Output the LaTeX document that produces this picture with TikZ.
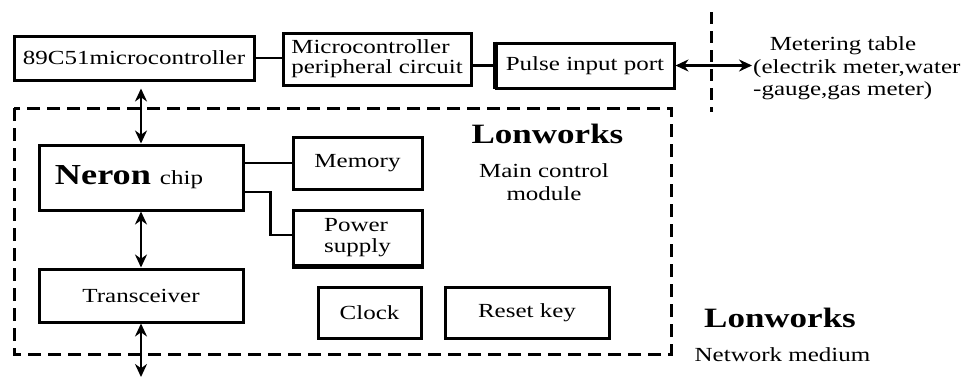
\documentclass[tikz,border=0pt]{standalone}
\usepackage{fontspec}
\setmainfont[FakeStretch=1.25]{Liberation Serif}
\usetikzlibrary{arrows.meta,calc}
\begin{document}
\begin{tikzpicture}[x=1pt,y=-1pt,
  every node/.style={font=\fontsize{20}{22}\selectfont, inner sep=0pt},
  blk/.style={draw, line width=3pt, fill=white},
  txt/.style={anchor=base},
  big/.style={anchor=base, font=\fontsize{28}{30}\selectfont\bfseries},
  con/.style={line width=2.4pt},
  dbl/.style={<->, line width=2.6pt, >={Stealth[length=13pt,width=12pt]}},
  grp/.style={dash pattern=on 13pt off 7pt, line width=3pt}]
\useasboundingbox[fill=white] (0,0) rectangle (966,378);
% group box
\draw[grp] (14,108) rectangle (671,354);
% top row
\node[blk, minimum width=240pt, minimum height=44pt] (mcu) at (134,58) {89C51microcontroller};
\node[blk, minimum width=188pt, minimum height=52pt, align=left, font=\fontsize{20}{20}\selectfont] (periph) at (377,59) {Microcontroller\\peripheral circuit};
\node[blk, minimum width=178pt, minimum height=45pt] (pulse) at (585,65.5) {Pulse input port};
\draw[line width=4pt] (pulse.north west) -- ++(0,47);
% inner blocks
\node[blk, minimum width=204pt, minimum height=65pt] (neron) at (141,177.5) {{\fontsize{29}{30}\selectfont\bfseries Neron}\kern9pt chip\kern24pt};
\node[blk, minimum width=204pt, minimum height=53pt] (trans) at (141,295.5) {Transceiver};
\node[blk, minimum width=129pt, minimum height=52pt] (memory) at (357.5,163) {Memory};
\node[blk, minimum width=129pt, minimum height=55pt, align=left, font=\fontsize{20}{21}\selectfont] (power) at (357.5,237.5) {Power\\supply};
\draw[line width=5pt] (power.south west) -- (power.south east);
\node[blk, minimum width=103pt, minimum height=51pt] (clock) at (369.5,312.5) {Clock};
\node[blk, minimum width=164pt, minimum height=51pt] (reset) at (527,312.5) {Reset key};
% labels
\node[big] (lw1) at (547.5,143) {Lonworks};
\node[txt] (mc1) at (544,177) {Main control};
\node[txt] (mc2) at (544,200) {module};
\node[big] (lw2) at (780,327) {Lonworks};
\node[txt] (nm) at (782.5,361) {Network medium};
\node[txt] (mt1) at (843,50) {Metering table};
\node[txt, anchor=base west] (mt2) at (753,73) {(electrik meter,water};
\node[txt, anchor=base west] (mt3) at (753,95) {-gauge,gas meter)};
% vertical dashed divider
\coordinate (v1) at (711,12);
\coordinate (v2) at (711,112);
\draw[dash pattern=on 12pt off 7pt, line width=3pt] (v1) -- (v2);
% connectors
\draw[con] (mcu.east) -- (mcu.east -| periph.west);
\draw[con] (pulse.west -| periph.east) -- (pulse.west);
\coordinate (mtend) at (752,65.5);
\draw[dbl] (pulse.east) -- (mtend);
\draw[dbl, shorten <=7pt] (neron.north |- mcu.south) -- (neron.north);
\draw[dbl] (neron.south) -- (trans.north);
\coordinate (netend) at (141,377);
\draw[dbl] (trans.south) -- (netend);
\draw[con] (memory.west -| neron.east) -- (memory.west);
\draw[con] ($(neron.east)+(0,14.5)$) -- ++(26,0) |- ($(power.west)+(0,-2.5)$);
\end{tikzpicture}
\end{document}
